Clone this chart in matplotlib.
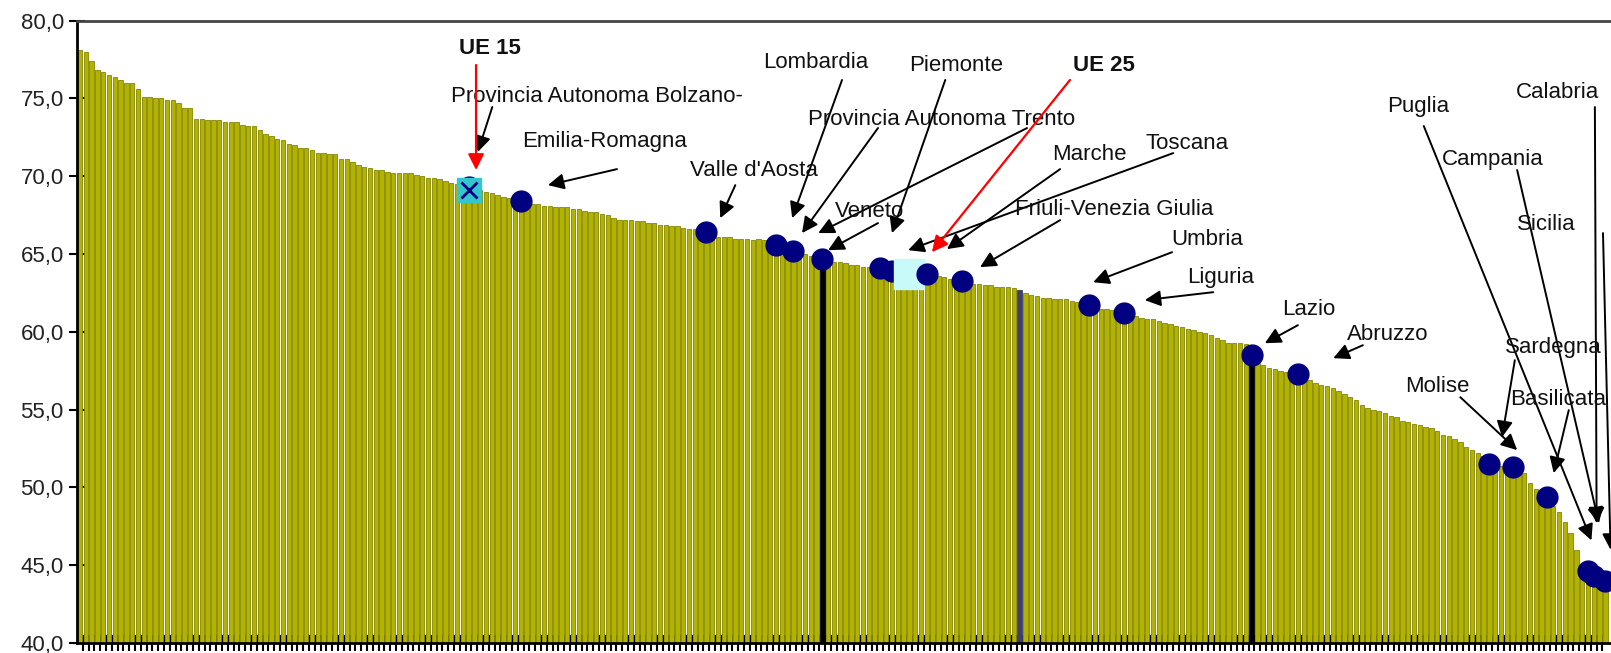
import matplotlib
matplotlib.use('Agg')
import matplotlib.pyplot as plt
from matplotlib.ticker import FuncFormatter
import numpy as np

plt.rcParams['font.family'] = ['Liberation Sans', 'DejaVu Sans']

# tasso di occupazione delle regioni, in ordine decrescente
values = [
	78.1, 78.0, 77.4, 76.8, 76.7, 76.5, 76.4, 76.2, 76.0, 76.0,
	75.6, 75.1, 75.1, 75.0, 75.0, 74.9, 74.9, 74.7, 74.4, 74.4,
	73.7, 73.7, 73.6, 73.6, 73.6, 73.5, 73.5, 73.5, 73.3, 73.2,
	73.2, 73.0, 72.7, 72.6, 72.4, 72.3, 72.1, 72.0, 71.8, 71.8,
	71.7, 71.5, 71.5, 71.4, 71.4, 71.1, 71.1, 70.9, 70.7, 70.6,
	70.5, 70.4, 70.4, 70.3, 70.2, 70.2, 70.2, 70.2, 70.1, 70.0,
	69.9, 69.9, 69.8, 69.7, 69.6, 69.5, 69.4, 69.3, 69.2, 69.1,
	69.0, 68.9, 68.8, 68.7, 68.6, 68.5, 68.4, 68.3, 68.2, 68.2,
	68.1, 68.1, 68.0, 68.0, 68.0, 67.9, 67.9, 67.8, 67.7, 67.7,
	67.6, 67.5, 67.3, 67.2, 67.2, 67.2, 67.1, 67.1, 67.0, 67.0,
	66.9, 66.9, 66.8, 66.8, 66.7, 66.6, 66.6, 66.5, 66.4, 66.2,
	66.1, 66.1, 66.1, 66.0, 66.0, 66.0, 65.9, 66.0, 65.9, 65.8,
	65.6, 65.4, 65.3, 65.2, 65.0, 65.0, 64.9, 64.8, 64.7, 64.6,
	64.5, 64.5, 64.4, 64.3, 64.3, 64.2, 64.2, 64.1, 64.1, 64.0,
	63.9, 63.8, 63.8, 63.8, 63.7, 63.7, 63.7, 63.6, 63.6, 63.5,
	63.4, 63.4, 63.3, 63.2, 63.1, 63.1, 63.0, 63.0, 62.9, 62.9,
	62.9, 62.8, 62.7, 62.5, 62.4, 62.3, 62.2, 62.2, 62.1, 62.1,
	62.1, 62.0, 61.9, 61.8, 61.7, 61.6, 61.5, 61.5, 61.4, 61.3,
	61.2, 61.1, 61.0, 60.9, 60.8, 60.8, 60.7, 60.6, 60.5, 60.4,
	60.3, 60.2, 60.1, 60.0, 59.9, 59.8, 59.6, 59.5, 59.3, 59.3,
	59.3, 59.2, 58.5, 58.0, 57.9, 57.7, 57.6, 57.5, 57.4, 57.3,
	57.3, 57.0, 56.9, 56.7, 56.6, 56.5, 56.4, 56.2, 56.0, 55.8,
	55.6, 55.3, 55.1, 55.0, 54.9, 54.8, 54.6, 54.5, 54.3, 54.2,
	54.1, 54.0, 53.9, 53.8, 53.6, 53.4, 53.3, 53.1, 52.9, 52.6,
	52.4, 52.2, 52.0, 51.5, 51.5, 51.4, 51.3, 51.3, 51.0, 50.9,
	50.3, 49.9, 49.6, 49.4, 48.8, 48.4, 47.8, 47.1, 46.0, 45.0,
	44.6, 44.3, 44.1, 44.0,
]

# barre delle regioni italiane
it_pos = [67, 76, 108, 120, 123, 128, 138, 140, 146, 152, 174, 180, 202, 210, 243, 247, 253, 260, 261, 263]
it_behind = [67, 140]

ue_labels = ['UE 15', 'UE 25']
ue_pos = [67, 143]
ue_values = [69.1, 63.7]

black_bars = [128, 202]
purple_bars = [162]

# etichette: testo, posizione, frecce (coda -> punta)
labels = [
	('Provincia Autonoma Bolzano-', (89.2, 75.1), [((71.1, 74.45), (68.6, 71.56))]),
	('Emilia-Romagna', (90.5, 72.26), [((92.6, 70.46), (80.7, 69.43))]),
	("Valle d'Aosta", (116.2, 70.4), [((113.0, 69.43), (110.4, 67.31))]),
	('Lombardia', (126.9, 77.34), [((131.4, 76.19), (122.8, 67.31))]),
	('Provincia Autonoma Trento', (148.5, 73.68), [((137.6, 73.1), (124.5, 66.35)), ((163.3, 73.1), (127.3, 66.35))]),
	('Veneto', (136.1, 67.76), [((137.6, 66.99), (129.0, 65.25))]),
	('Piemonte', (151.1, 77.09), [((149.2, 76.19), (140.0, 66.35))]),
	('Marche', (174.0, 71.43), [((169.0, 70.46), (149.5, 65.32))]),
	('Toscana', (190.9, 72.08), [((188.5, 71.49), (142.8, 65.25))]),
	('Friuli-Venezia Giulia', (178.3, 67.89), [((169.0, 67.18), (155.2, 64.16))]),
	('Umbria', (194.3, 65.96), [((188.3, 65.12), (174.7, 63.19))]),
	('Liguria', (196.6, 63.52), [((195.4, 62.55), (183.6, 62.04))]),
	('Lazio', (211.9, 61.46), [((210.0, 60.43), (204.3, 59.27))]),
	('Abruzzo', (225.5, 59.85), [((221.2, 59.14), (216.1, 58.31))]),
	('Puglia', (230.7, 74.51), [((231.7, 73.23), (260.6, 46.6))]),
	('Campania', (243.6, 71.1), [((247.8, 70.4), (261.9, 47.7))]),
	('Sicilia', (252.9, 66.92), [((262.6, 66.35), (263.9, 46.0))]),
	('Calabria', (254.7, 75.41), [((261.2, 74.45), (261.5, 47.7))]),
	('Sardegna', (254.0, 59.02), [((247.4, 58.18), (245.2, 53.23))]),
	('Molise', (234.0, 56.51), [((238.0, 55.8), (247.8, 52.4))]),
	('Basilicata', (254.8, 55.67), [((256.7, 54.97), (254.1, 50.92))]),
]
ue_text = [((70.7, 78.24), ((68.3, 77.15), (68.3, 70.4))),
	((176.6, 77.09), ((170.7, 76.19), (146.9, 65.12)))]

fig = plt.figure(figsize=(16.11, 6.53), dpi=100)
ax = fig.add_axes([0.0478, 0.0153, 0.9522, 0.953])

x = np.arange(len(values))
face = ['#B2B200'] * len(values)
edge = ['#858500'] * len(values)
for i in black_bars:
	face[i] = 'black'
	edge[i] = 'black'
for i in purple_bars:
	face[i] = '#3F3F6A'
	edge[i] = '#3F3F6A'
ax.bar(x, values, width=0.76, bottom=0, color=face, edgecolor=edge, linewidth=0.6, zorder=2)

vals = np.array(values)
front = [p for p in it_pos if p not in it_behind]
ax.plot(it_behind, vals[it_behind], 'o', color='#000080', markersize=15, zorder=3)
ax.plot(ue_pos[0], ue_values[0], 's', color='#33C6CC', markersize=17, zorder=4)
ax.plot(ue_pos[0], ue_values[0], 'x', color='#000080', markersize=12, mew=2, zorder=4.5)
ax.plot(ue_pos[1], ue_values[1], 's', color='#C8FAFA', markersize=21.5, zorder=4)
ax.plot(front, vals[front], 'o', color='#000080', markersize=15, zorder=5)

ap = dict(arrowstyle='-|>', color='black', lw=1.4, mutation_scale=24, shrinkA=0, shrinkB=0)
for name, pos, arrows in labels:
	ax.text(pos[0], pos[1], name, fontsize=16, ha='center', va='center', color='#111111', zorder=6)
	for tail, tip in arrows:
		ax.annotate('', xy=tip, xytext=tail, arrowprops=ap, zorder=6)

apr = dict(arrowstyle='-|>', color='red', lw=1.6, mutation_scale=24, shrinkA=0, shrinkB=0)
for lab, (pos, (tail, tip)) in zip(ue_labels, ue_text):
	ax.text(pos[0], pos[1], lab, fontsize=16, fontweight='bold', ha='center', va='center', color='#111111', zorder=6)
	ax.annotate('', xy=tip, xytext=tail, arrowprops=apr, zorder=7)

ax.set_ylim(40, 80)
ax.set_xlim(-0.5, 263.98)
ax.set_yticks(np.arange(40, 81, 5))
ax.yaxis.set_major_formatter(FuncFormatter(lambda v, p: f'{v:.1f}'.replace('.', ',')))
ax.set_xticks(x[:-1] + 0.5)
ax.set_xticklabels([])
ax.tick_params(axis='y', direction='inout', length=11, width=1.5, labelsize=16, pad=4, labelcolor='#222222')
ax.tick_params(axis='x', direction='inout', length=12, width=1.5)

ax.spines['right'].set_visible(False)
ax.spines['top'].set_color('#444444')
ax.spines['top'].set_linewidth(2)
ax.spines['left'].set_linewidth(2)
ax.spines['bottom'].set_linewidth(2)

fig.savefig('out.png', dpi=100)
